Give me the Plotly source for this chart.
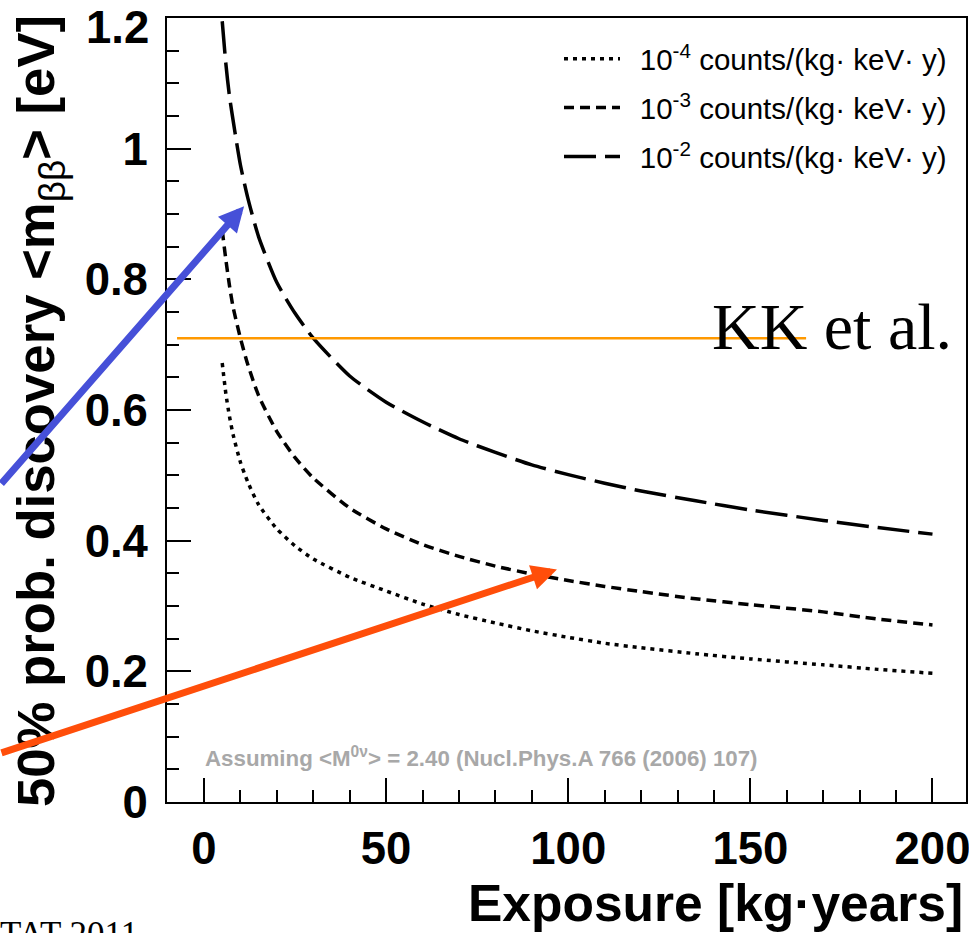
import plotly.graph_objects as go

# ---------------- data ----------------
# exposure in kg*years, 50% discovery <m_bb> in eV
exp_b4 = [5, 6, 7, 8, 10, 12, 15, 20, 25, 30, 40, 50, 60, 70, 80, 90, 100, 110, 120, 135, 150, 170, 185, 200]
mbb_b4 = [0.672, 0.625, 0.59, 0.562, 0.52, 0.49, 0.455, 0.418, 0.392, 0.372, 0.344, 0.323, 0.303, 0.287, 0.274,
          0.262, 0.252, 0.243, 0.236, 0.227, 0.219, 0.21, 0.203, 0.197]

exp_b3 = [5, 6, 7, 8, 10, 12, 15, 20, 25, 30, 40, 50, 60, 70, 80, 90, 100, 110, 120, 135, 150, 170, 185, 200]
mbb_b3 = [0.875, 0.83, 0.79, 0.757, 0.71, 0.67, 0.622, 0.567, 0.527, 0.496, 0.45, 0.418, 0.394, 0.376, 0.361,
          0.349, 0.339, 0.33, 0.322, 0.311, 0.302, 0.291, 0.28, 0.271]

exp_b2 = [5, 6, 7, 8.5, 10, 12, 15, 20, 25, 30, 40, 50, 60, 70, 80, 90, 100, 110, 120, 135, 150, 170, 185, 200]
mbb_b2 = [1.195, 1.13, 1.08, 1.025, 0.975, 0.925, 0.865, 0.795, 0.748, 0.71, 0.652, 0.612, 0.582, 0.556, 0.535,
          0.516, 0.501, 0.488, 0.476, 0.461, 0.447, 0.431, 0.42, 0.41]

series_names = ["10<sup>-4</sup> counts/(kg· keV· y)",
                "10<sup>-3</sup> counts/(kg· keV· y)",
                "10<sup>-2</sup> counts/(kg· keV· y)"]

kk_value = 0.71            # KK et al. claim (eV)
kk_x_span = [-7.4, 165.3]  # extent of the orange line (kg*years)

y_tickvals = [0, 0.2, 0.4, 0.6, 0.8, 1.0, 1.2]
y_ticktext = ["0", "0.2", "0.4", "0.6", "0.8", "1", "1.2"]
x_tickvals = [0, 50, 100, 150, 200]
x_ticktext = ["0", "50", "100", "150", "200"]

# arrow heads (data coords)
blue_head = (11.0, 0.912)
red_head = (96.9, 0.356)

# ---------------- layout helpers ----------------
W, H = 969, 933
L, R, T, B = 167, 3, 18, 131
PW = W - L - R
PH = H - T - B


def pxx(xp):
    return (xp - L) / PW


def pxy(yp):
    return (H - B - yp) / PH


SANS = "Liberation Sans, Arial, Helvetica, sans-serif"
SERIF = "Liberation Serif, Times New Roman, serif"
TICKFONT = dict(family=SANS, size=45.5, color="black", weight="bold")

fig = go.Figure()

dashes = ["4px,5px", "10px,6px", "32px,9px"]
for name, xs, ys, dash in zip(series_names, [exp_b4, exp_b3, exp_b2], [mbb_b4, mbb_b3, mbb_b2], dashes):
    fig.add_trace(go.Scatter(
        x=xs, y=ys, mode="lines", name="\u2002" + name, legendgroup=name,
        line=dict(color="black", width=3.5, dash=dash, shape="spline", smoothing=0.6),
        hoverinfo="skip",
    ))

# KK et al. orange line
fig.add_shape(type="line", xref="x", yref="y", x0=kk_x_span[0], x1=kk_x_span[1], y0=kk_value, y1=kk_value,
              line=dict(color="#FF9900", width=2.5), layer="above")

# the top y tick label sits a little below its tick (kept inside the canvas, as in the reference)
axis_ticktext = y_ticktext[:-1] + [""]

annotations = []
annotations.append(dict(xref="paper", yref="paper", x=pxx(151), y=pxy(27), xanchor="right", yanchor="middle",
                        text=y_ticktext[-1], showarrow=False, font=TICKFONT))
# KK et al. text
annotations.append(dict(xref="paper", yref="paper", x=pxx(710), y=pxy(326), xanchor="left", yanchor="middle",
                        text="KK et al.", showarrow=False,
                        font=dict(family=SERIF, size=66, color="black")))
# Assuming text
annotations.append(dict(xref="paper", yref="paper", x=pxx(203), y=pxy(757), xanchor="left", yanchor="middle",
                        text="Assuming &lt;M<sup>0ν</sup>&gt; = 2.40 (Nucl.Phys.A 766 (2006) 107)",
                        showarrow=False,
                        font=dict(family=SANS, size=22.3, color="#A8A8A8", weight="bold")))
# y title
annotations.append(dict(xref="paper", yref="paper", x=pxx(40), y=pxy(13), xanchor="center", yanchor="top",
                        textangle=-90, showarrow=False,
                        text="50% prob. discovery &lt;m<sub><span style=\"font-weight:normal\">ββ</span></sub>&gt; [eV]",
                        font=dict(family=SANS, size=52.7, color="black", weight="bold")))
# x title
annotations.append(dict(xref="paper", yref="paper", x=pxx(965), y=pxy(903), xanchor="right", yanchor="middle",
                        showarrow=False, text="Exposure [kg·years]",
                        font=dict(family=SANS, size=51.5, color="black", weight="bold")))
# bottom-left clipped caption
annotations.append(dict(xref="paper", yref="paper", x=pxx(-2), y=pxy(913), xanchor="left", yanchor="top",
                        showarrow=False, text="TAT 2011",
                        font=dict(family=SERIF, size=35, color="black")))
# blue arrow
annotations.append(dict(xref="x", yref="y", x=blue_head[0], y=blue_head[1], ax=-264, ay=279,
                        axref="pixel", ayref="pixel", text="", showarrow=True,
                        arrowhead=2, arrowsize=0.72, arrowwidth=7, arrowcolor="#4650D8", standoff=0))
# red arrow
annotations.append(dict(xref="x", yref="y", x=red_head[0], y=red_head[1], ax=-577, ay=184,
                        axref="pixel", ayref="pixel", text="", showarrow=True,
                        arrowhead=2, arrowsize=0.72, arrowwidth=7, arrowcolor="#FF4E0A", standoff=0))

axis_common = dict(showline=True, linecolor="black", linewidth=2, mirror=True, ticks="inside",
                   tickcolor="black", tickwidth=1.5, ticklen=24, showgrid=False, zeroline=False,
                   automargin=False, ticklabeloverflow="allow", tickfont=TICKFONT)

fig.update_layout(
    width=W, height=H, autosize=False,
    margin=dict(l=L, r=R, t=T, b=B, pad=0, autoexpand=False),
    paper_bgcolor="white", plot_bgcolor="white",
    showlegend=True,
    legend=dict(x=pxx(559), y=pxy(33), xanchor="left", yanchor="top", bgcolor="rgba(0,0,0,0)",
                font=dict(family=SANS, size=29.5, color="black"), itemwidth=56, tracegroupgap=7.5,
                traceorder="grouped"),
    annotations=annotations,
    xaxis=dict(range=[-10.16, 209.2], tickmode="array", tickvals=x_tickvals, ticktext=x_ticktext,
               minor=dict(dtick=10, tick0=0, ticks="inside", ticklen=12, tickcolor="black", tickwidth=1.5),
               ticklabelstandoff=5, **axis_common),
    yaxis=dict(range=[0, 1.2], tickmode="array", tickvals=y_tickvals, ticktext=axis_ticktext,
               minor=dict(dtick=0.05, tick0=0, ticks="inside", ticklen=12, tickcolor="black", tickwidth=1.5),
               ticklabelstandoff=8, **axis_common),
)

fig.write_html("out.html",
               config={"displayModeBar": False},
               post_script="document.body.style.margin='0px';document.body.style.overflow='hidden';")
